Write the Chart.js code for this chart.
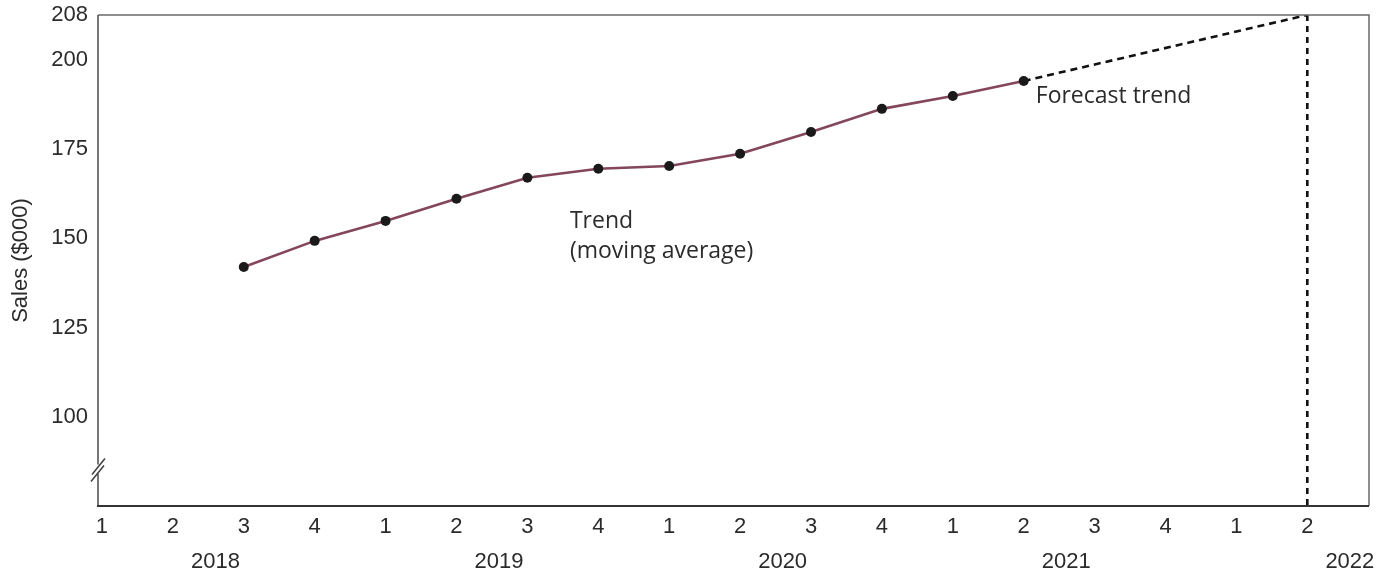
<!DOCTYPE html>
<html>
<head>
<meta charset="utf-8">
<script src="https://cdn.jsdelivr.net/npm/chart.js@4.4.1/dist/chart.umd.min.js"></script>
<style>
  html, body { margin: 0; padding: 0; background: #fff; }
  #wrap { width: 1389px; height: 571px; position: relative; }
</style>
</head>
<body>
<div id="wrap"><canvas id="c" width="1389" height="571"></canvas></div>
<script>
// ---- data ----
const quarterLabels = ['1','2','3','4','1','2','3','4','1','2','3','4','1','2','3','4','1','2'];
const yearLabels = ['2018','2019','2020','2021','2022'];
const trendQuarterIndex = [2,3,4,5,6,7,8,9,10,11,12,13];
const trendValues = [142.0,149.3,154.9,161.1,167.0,169.5,170.3,173.7,179.8,186.3,189.9,194.1];
const forecastQuarterIndex = [13,17];
const forecastValues = [194.1,208];
const yTickValues = [100,125,150,175,200,208];
const yAxisBottom = 75;
const yAxisTop = 208;

// ---- axis with a stretched top segment (200 -> 208) ----
const breakStart = 200, stretch = 1.575;
function warp(v){ return v <= breakStart ? v : breakStart + (v - breakStart) * stretch; }
function unwarp(w){ return w <= breakStart ? w : breakStart + (w - breakStart) / stretch; }
class WarpScale extends Chart.LinearScale {
  getPixelForValue(value){ return super.getPixelForValue(value == null ? value : warp(value)); }
  getValueForPixel(pixel){ return unwarp(super.getValueForPixel(pixel)); }
}
WarpScale.id = 'warp';
WarpScale.defaults = {};
Chart.register(WarpScale);

const TXT = '#2b2b2b';
const tickFont = { family: '"Liberation Sans", Arial, sans-serif', size: 22 };

const frame = {
  id: 'frame',
  afterDatasetsDraw(chart){
    const {ctx, chartArea: a} = chart;
    const ys = chart.scales.y;
    ctx.save();
    // top & right
    ctx.strokeStyle = '#6a6a6a'; ctx.lineWidth = 1.5;
    ctx.beginPath(); ctx.moveTo(a.left, a.top); ctx.lineTo(a.right, a.top); ctx.lineTo(a.right, a.bottom); ctx.stroke();
    // left
    ctx.strokeStyle = '#555'; ctx.lineWidth = 1.6;
    ctx.beginPath(); ctx.moveTo(a.left, a.top); ctx.lineTo(a.left, a.bottom); ctx.stroke();
    // bottom
    ctx.strokeStyle = '#333'; ctx.lineWidth = 2;
    ctx.beginPath(); ctx.moveTo(a.left - 1, a.bottom); ctx.lineTo(a.right, a.bottom); ctx.stroke();
    // axis break marks
    const yb = ys.getPixelForValue(85.2);
    ctx.fillStyle = '#fff';
    ctx.fillRect(a.left - 2, yb - 5, 4, 9);
    ctx.strokeStyle = '#444'; ctx.lineWidth = 1.6;
    ctx.beginPath();
    ctx.moveTo(a.left - 6, yb + 5); ctx.lineTo(a.left + 7, yb - 11);
    ctx.moveTo(a.left - 7, yb + 12); ctx.lineTo(a.left + 6, yb - 4);
    ctx.stroke();
    // annotations
    const xs = chart.scales.x;
    ctx.fillStyle = TXT;
    ctx.font = '23px "Open Sans", sans-serif';
    ctx.textAlign = 'left'; ctx.textBaseline = 'middle';
    ctx.fillText('Trend', xs.getPixelForValue(6.6), ys.getPixelForValue(154.7));
    ctx.fillText('(moving average)', xs.getPixelForValue(6.6), ys.getPixelForValue(146.3));
    ctx.fillText('Forecast trend', xs.getPixelForValue(13.17), ys.getPixelForValue(189.8));
    ctx.restore();
  }
};

new Chart(document.getElementById('c'), {
  type: 'scatter',
  data: {
    datasets: [
      {
        label: 'Forecast trend',
        data: forecastQuarterIndex.map((q, i) => ({x: q, y: forecastValues[i]})),
        showLine: true, borderColor: '#111', borderWidth: 2.6, borderDash: [7, 5],
        pointRadius: 0, order: 2
      },
      {
        label: 'Forecast marker',
        data: [{x: forecastQuarterIndex[1], y: forecastValues[1]}, {x: forecastQuarterIndex[1], y: yAxisBottom}],
        showLine: true, borderColor: '#111', borderWidth: 2.6, borderDash: [6, 5],
        pointRadius: 0, order: 3
      },
      {
        label: 'Trend (moving average)',
        data: trendQuarterIndex.map((q, i) => ({x: q, y: trendValues[i]})),
        showLine: true, borderColor: '#84465a', borderWidth: 2.6,
        pointRadius: 5, pointBackgroundColor: '#1a1a1a', pointBorderWidth: 0,
        order: 1
      }
    ]
  },
  options: {
    responsive: false, animation: false,
    layout: { padding: { top: 15, right: 20, left: 0, bottom: 0 } },
    plugins: { legend: { display: false }, tooltip: { enabled: false } },
    scales: {
      x: {
        type: 'linear', position: 'bottom', min: -0.056, max: 17.87, bounds: 'data', weight: 0,
        grid: { display: false, drawTicks: false }, border: { display: false },
        afterBuildTicks: s => { s.ticks = quarterLabels.map((_, i) => ({value: i})); },
        afterFit: s => { s.height = 32; s.paddingLeft = 0; s.paddingRight = 0; },
        ticks: { autoSkip: false, maxRotation: 0, padding: 8, color: TXT, font: tickFont,
                 callback: v => quarterLabels[v] }
      },
      year: {
        type: 'linear', position: 'bottom', min: -0.056, max: 17.87, bounds: 'data', weight: 1,
        grid: { display: false, drawTicks: false }, border: { display: false },
        afterBuildTicks: s => { s.ticks = yearLabels.map((_, i) => ({value: i * 4 + 1.6})); },
        afterFit: s => { s.height = 33; s.paddingLeft = 0; s.paddingRight = 0; },
        ticks: { autoSkip: false, maxRotation: 0, padding: 11, color: TXT, font: tickFont,
                 callback: (v, i) => yearLabels[i] }
      },
      y: {
        type: 'warp', min: yAxisBottom, max: warp(yAxisTop), bounds: 'data',
        grid: { display: false, drawTicks: false }, border: { display: false },
        afterBuildTicks: s => { s.ticks = yTickValues.map(v => ({value: v})); },
        afterFit: s => { s.width = 98; s.paddingTop = 0; s.paddingBottom = 0; },
        ticks: { autoSkip: false, padding: 10, color: TXT, font: tickFont, callback: v => String(v) },
        title: { display: true, text: 'Sales ($000)', color: TXT,
                 font: { family: '"Liberation Sans", Arial, sans-serif', size: 22 }, padding: { top: 8, bottom: 0 } }
      }
    }
  },
  plugins: [frame]
});
</script>
</body>
</html>
